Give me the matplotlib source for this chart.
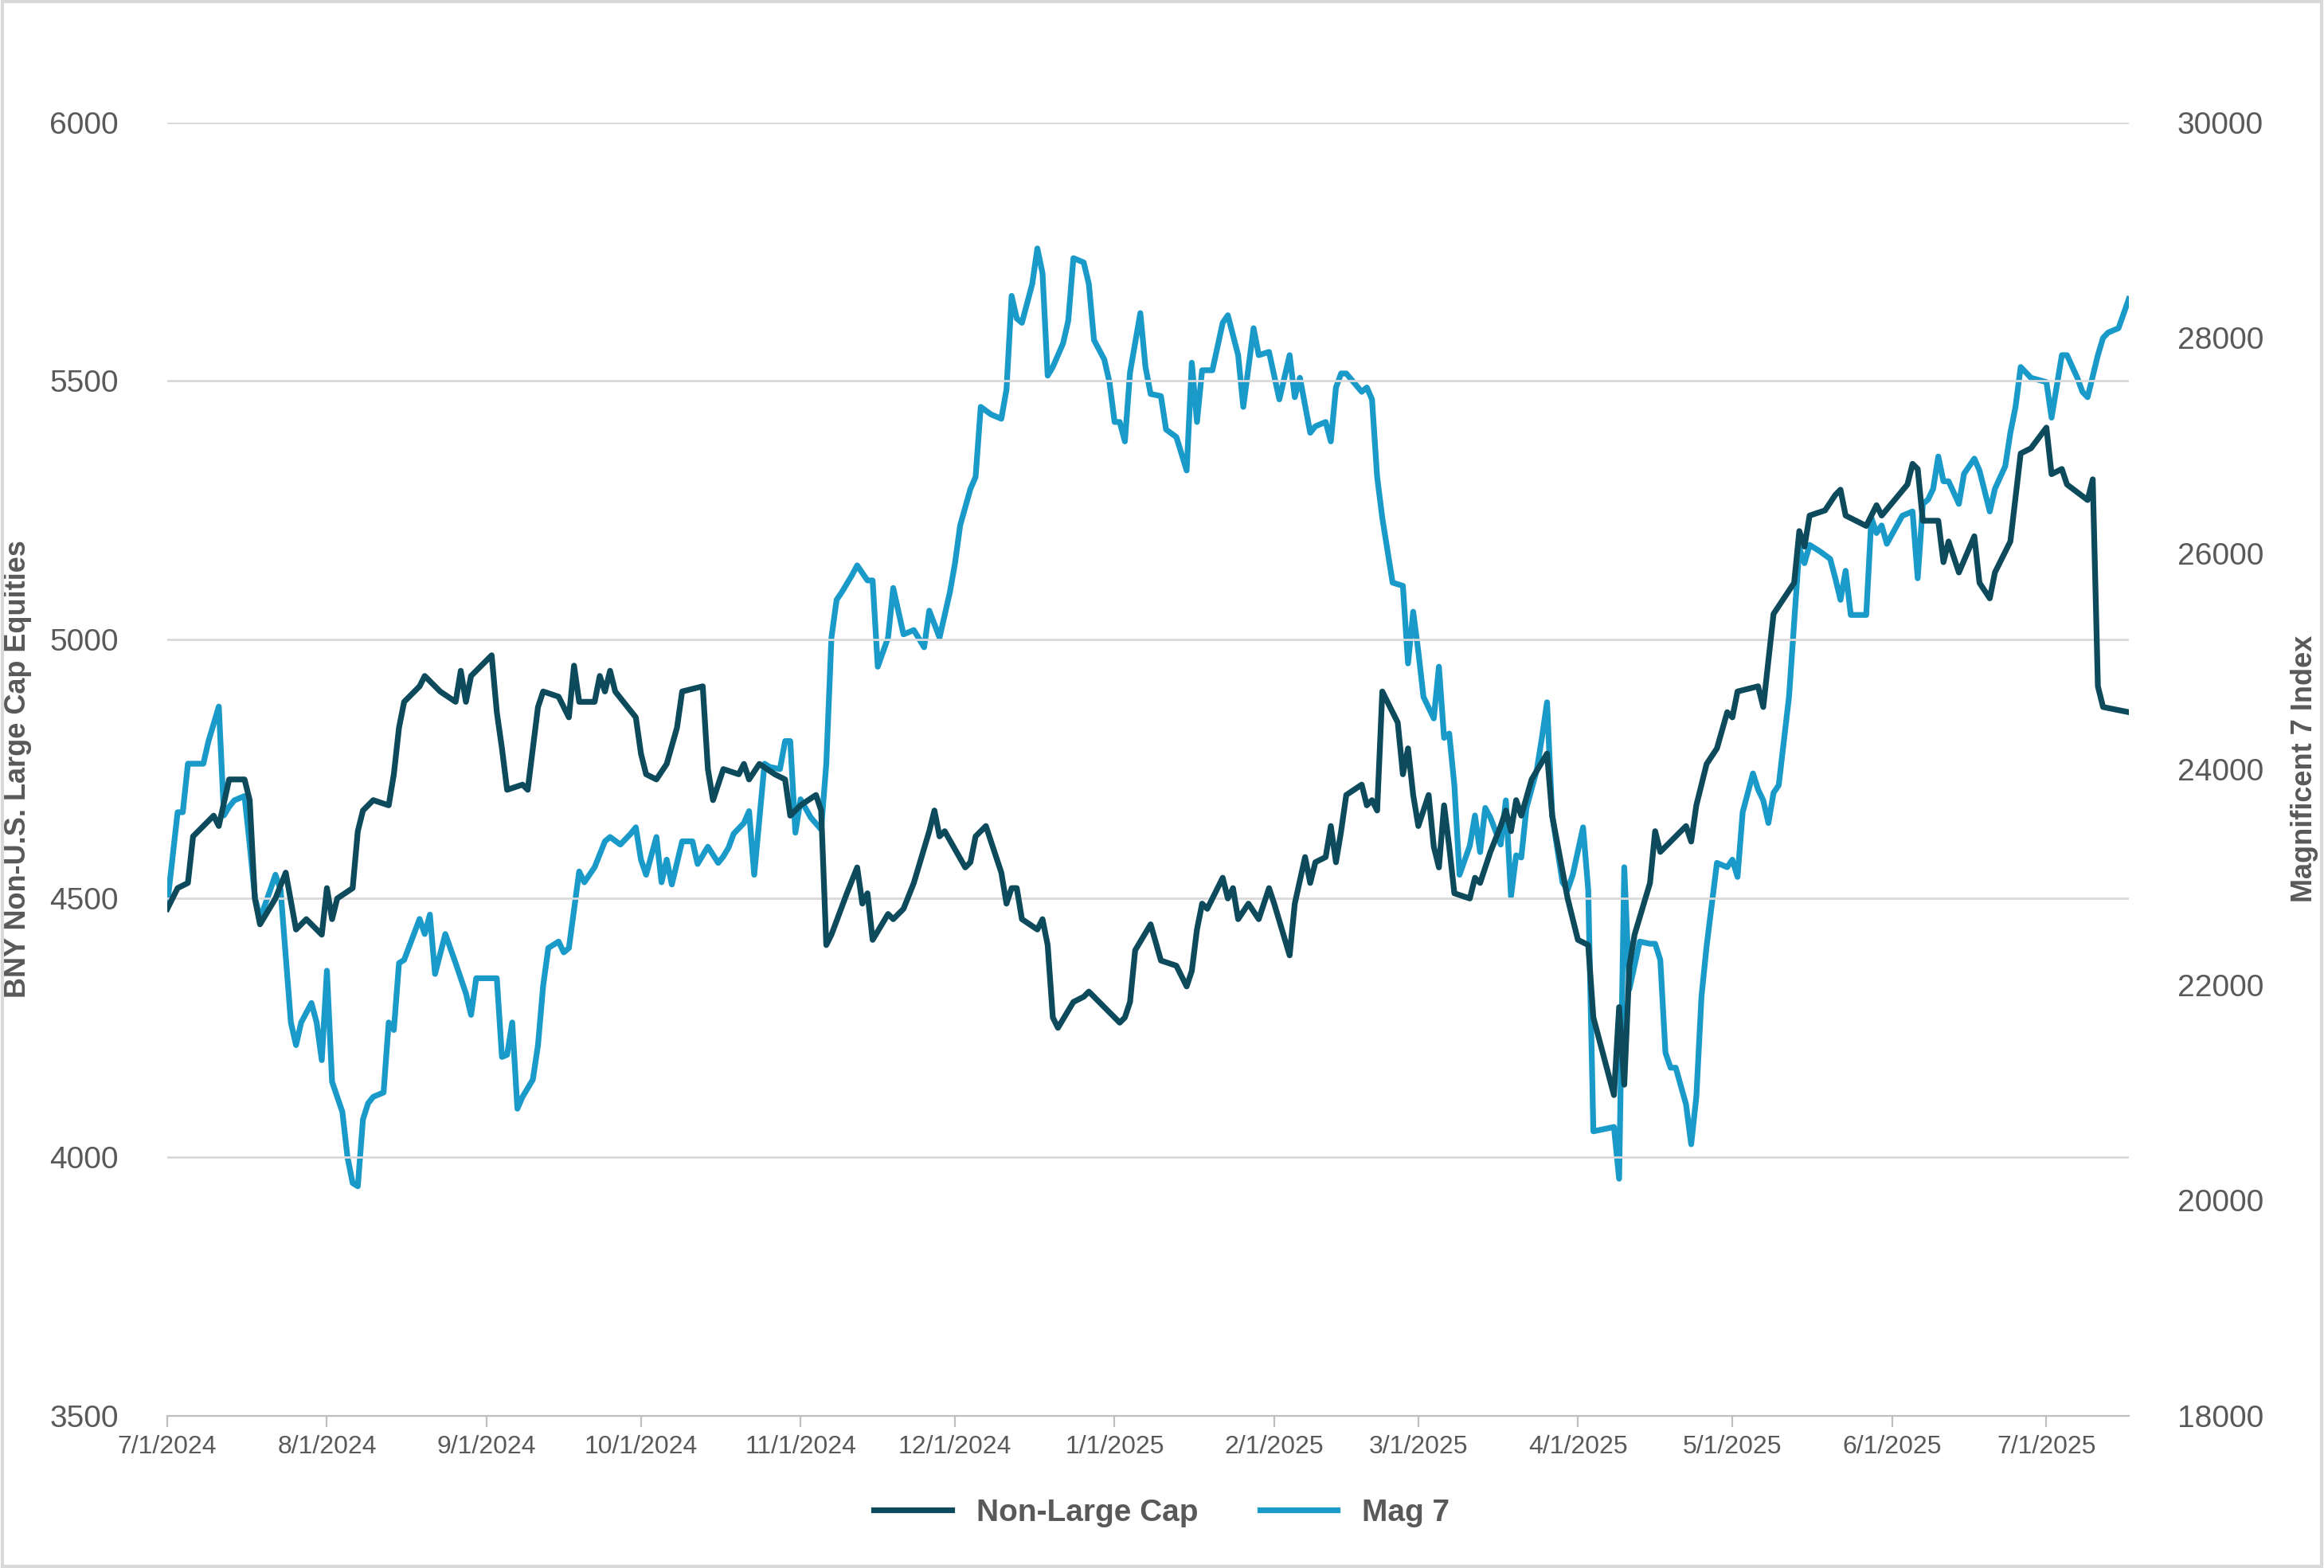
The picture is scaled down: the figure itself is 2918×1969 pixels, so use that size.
import numpy as np
import pandas as pd
import matplotlib
matplotlib.use("Agg")
import matplotlib.pyplot as plt
import matplotlib.dates as mdates

plt.rcParams["font.family"] = "Liberation Sans"

# =============================================================================
# Data (days since 7/1/2024, index level)
start = pd.Timestamp("2024-07-01")

nlc_day = [0, 2, 4, 5, 9, 10, 12, 15, 16, 17, 18, 21, 23, 25, 27, 30, 31, 32, 33, 36, 37, 38, 40, 43, 44, 45, 46,
           49, 50, 53, 56, 57, 58, 59, 63, 64, 65, 66, 69, 70, 72, 73, 76, 78, 79, 80, 83, 84, 85, 86, 87, 91, 92,
           93, 95, 97, 99, 100, 104, 105, 106, 108, 111, 112, 113, 115, 118, 120, 121, 123, 126, 127, 128, 129,
           132, 134, 135, 136, 137, 140, 141, 143, 145, 148, 149, 150, 151, 155, 156, 157, 159, 162, 163, 164,
           165, 166, 169, 170, 171, 172, 173, 176, 178, 179, 182, 185, 186, 187, 188, 191, 193, 196, 198, 199,
           200, 201, 202, 205, 206, 207, 208, 210, 212, 214, 215, 218, 219, 221, 222, 223, 225, 226, 227, 228,
           229, 232, 233, 234, 235, 236, 238, 239, 240, 241, 242, 243, 245, 246, 247, 248, 249, 250, 253, 254,
           255, 257, 259, 260, 261, 262, 263, 265, 268, 269, 272, 274, 276, 277, 281, 282, 283, 284, 285, 288,
           289, 290, 295, 296, 297, 299, 301, 303, 304, 305, 309, 310, 312, 316, 317, 318, 319, 322, 324, 325,
           326, 330, 332, 333, 338, 339, 340, 341, 344, 345, 346, 348, 351, 352, 354, 355, 358, 360, 362, 365,
           366, 368, 369, 373, 374, 375, 376, 381]
nlc_val = [4480, 4520, 4530, 4620, 4660, 4640, 4730, 4730, 4690, 4500, 4450, 4500, 4550, 4440, 4460, 4430, 4520,
           4460, 4500, 4520, 4630, 4670, 4690, 4680, 4740, 4830, 4880, 4910, 4930, 4900, 4880, 4940, 4880, 4930,
           4970, 4860, 4790, 4710, 4720, 4710, 4870, 4900, 4890, 4850, 4950, 4880, 4880, 4930, 4900, 4940, 4900,
           4850, 4780, 4740, 4730, 4760, 4830, 4900, 4910, 4750, 4690, 4750, 4740, 4760, 4730, 4760, 4740, 4730,
           4660, 4680, 4700, 4670, 4410, 4430, 4510, 4560, 4490, 4510, 4420, 4470, 4460, 4480, 4530, 4630, 4670,
           4620, 4630, 4560, 4570, 4620, 4640, 4550, 4490, 4520, 4520, 4460, 4440, 4460, 4410, 4270, 4250, 4300,
           4310, 4320, 4290, 4260, 4270, 4300, 4400, 4450, 4380, 4370, 4330, 4360, 4440, 4490, 4480, 4540, 4500,
           4520, 4460, 4490, 4460, 4520, 4490, 4390, 4490, 4580, 4530, 4570, 4580, 4640, 4570, 4630, 4700, 4720,
           4680, 4690, 4670, 4900, 4860, 4840, 4740, 4790, 4700, 4640, 4700, 4600, 4560, 4680, 4600, 4510, 4500,
           4540, 4530, 4590, 4640, 4670, 4630, 4690, 4660, 4730, 4780, 4660, 4500, 4420, 4410, 4270, 4120, 4290,
           4140, 4370, 4430, 4530, 4630, 4590, 4640, 4610, 4680, 4760, 4790, 4860, 4850, 4900, 4910, 4870, 5050,
           5110, 5210, 5180, 5240, 5250, 5280, 5290, 5240, 5220, 5260, 5240, 5300, 5340, 5330, 5230, 5230, 5150,
           5190, 5130, 5200, 5110, 5080, 5130, 5190, 5360, 5370, 5410, 5320, 5330, 5300, 5270, 5310, 4910, 4870,
           4860]

mag_day = [0, 2, 3, 4, 7, 8, 10, 11, 12, 13, 15, 16, 17, 18, 20, 21, 22, 24, 25, 26, 28, 29, 30, 31, 32, 34, 35,
           36, 37, 38, 39, 40, 42, 43, 44, 45, 46, 49, 50, 51, 52, 54, 56, 58, 59, 60, 64, 65, 66, 67, 68, 69, 71,
           72, 73, 74, 76, 77, 78, 80, 81, 83, 85, 86, 88, 90, 91, 92, 93, 95, 96, 97, 98, 100, 102, 103, 104, 105,
           107, 108, 109, 110, 112, 113, 114, 116, 117, 119, 120, 121, 122, 123, 125, 127, 128, 129, 130, 131, 133,
           134, 136, 137, 138, 140, 141, 143, 145, 147, 148, 150, 152, 153, 154, 156, 157, 158, 160, 162, 163, 164,
           165, 166, 168, 169, 170, 171, 172, 174, 175, 176, 178, 179, 180, 182, 183, 184, 185, 186, 187, 189, 190,
           191, 193, 194, 196, 198, 199, 200, 201, 203, 205, 206, 208, 209, 211, 212, 214, 216, 218, 219, 220, 222,
           223, 225, 226, 227, 228, 229, 232, 233, 234, 235, 236, 238, 240, 241, 242, 243, 244, 246, 247, 248, 249,
           250, 251, 253, 254, 255, 256, 257, 259, 260, 261, 262, 263, 264, 266, 267, 268, 269, 271, 272, 273, 275,
           276, 277, 279, 281, 282, 283, 284, 286, 288, 289, 290, 291, 292, 293, 295, 296, 297, 298, 299, 301, 303,
           304, 305, 306, 308, 309, 310, 311, 312, 313, 315, 316, 317, 318, 319, 321, 323, 324, 325, 326, 327, 330,
           331, 332, 333, 334, 337, 339, 340, 341, 342, 343, 344, 345, 346, 348, 349, 351, 352, 354, 355, 357, 358,
           359, 360, 362, 365, 366, 368, 369, 371, 372, 373, 375, 376, 377, 379, 381]
mag_val = [22750, 23600, 23600, 24050, 24050, 24260, 24580, 23570, 23650, 23710, 23750, 23300, 22820, 22610, 22880,
           23020, 22880, 21650, 21440, 21650, 21830, 21650, 21300, 22130, 21100, 20820, 20400, 20160, 20130, 20750,
           20900, 20960, 21000, 21650, 21580, 22200, 22230, 22610, 22470, 22650, 22100, 22470, 22200, 21920, 21720,
           22060, 22060, 21330, 21350, 21650, 20850, 20960, 21120, 21440, 21990, 22340, 22400, 22300, 22340, 23050,
           22950, 23090, 23330, 23370, 23300, 23400, 23460, 23160, 23020, 23370, 22950, 23160, 22930, 23330, 23330,
           23120, 23200, 23280, 23130, 23190, 23270, 23400, 23500, 23610, 23020, 24050, 24020, 24000, 24260, 24260,
           23410, 23720, 23550, 23440, 24050, 25220, 25570, 25640, 25800, 25890, 25750, 25750, 24950, 25220, 25680,
           25250, 25290, 25130, 25470, 25220, 25640, 25910, 26260, 26600, 26710, 27360, 27290, 27250, 27520, 28390,
           28180, 28140, 28500, 28830, 28600, 27650, 27730, 27950, 28160, 28740, 28700, 28500, 27980, 27800, 27590,
           27220, 27220, 27040, 27680, 28230, 27730, 27480, 27460, 27150, 27080, 26770, 27770, 27220, 27700, 27700,
           28140, 28210, 27840, 27360, 28090, 27840, 27870, 27430, 27840, 27450, 27630, 27120, 27180, 27220, 27040,
           27540, 27670, 27670, 27500, 27540, 27430, 26710, 26330, 25730, 25700, 24980, 25460, 25090, 24670,
           24470, 24950, 24290, 24330, 23850, 23020, 23290, 23570, 23230, 23640, 23550, 23300, 23710, 22820, 23200,
           23180, 23640, 23990, 24290, 24620, 23570, 22950, 22880, 23020, 23460, 22880, 20640, 20660, 20680, 20200,
           23090, 21960, 22400, 22380, 22380, 22230, 21370, 21230, 21230, 20890, 20520, 20960, 21890, 22360, 23130,
           23090, 23160, 23000, 23600, 23960, 23810, 23710, 23500, 23780, 23850, 24670, 25360, 26050, 25910,
           26080, 26020, 25950, 25770, 25570, 25840, 25430, 25430, 26330, 26190, 26260, 26090, 26350, 26390, 25770,
           26460, 26500, 26600, 26900, 26670, 26670, 26460, 26740, 26880, 26770, 26390, 26600, 26810, 27120, 27360,
           27730, 27630, 27590, 27260, 27840, 27840, 27630, 27500, 27450, 27840, 28000, 28050, 28090, 28360]

nlc_dates = start + pd.to_timedelta(nlc_day, unit="D")
mag_dates = start + pd.to_timedelta(mag_day, unit="D")

dark = "#0d4a5c"
light = "#1a9ac9"
grey = "#595959"

# =============================================================================
fig = plt.figure(figsize=(14.59, 9.845), dpi=200)
ax = fig.add_axes([0.072, 0.097, 0.844, 0.825])
ax2 = ax.twinx()

l1, = ax.plot(nlc_dates, nlc_val, color=dark, lw=2.6, zorder=3)
l2, = ax2.plot(mag_dates, mag_val, color=light, lw=2.6)
ax.set_zorder(ax2.get_zorder() + 1)
ax.patch.set_visible(False)

ax.set_ylim(3500, 6000)
ax.set_yticks(np.arange(3500, 6001, 500))
ax2.set_ylim(18000, 30000)
ax2.set_yticks(np.arange(18000, 30001, 2000))
ax.set_xlim(start, start + pd.Timedelta(days=381))
ax.xaxis.set_major_locator(mdates.MonthLocator())
ax.xaxis.set_major_formatter(plt.FuncFormatter(
    lambda x, p: (lambda d: f"{d.month}/{d.day}/{d.year}")(mdates.num2date(x))))

for a in (ax, ax2):
    for s in a.spines.values():
        s.set_visible(False)
ax.spines["bottom"].set_visible(True)
ax.spines["bottom"].set_color("#bfbfbf")
ax.grid(axis="y", color="#d9d9d9", lw=1)
ax.tick_params(axis="y", length=0, labelsize=14, labelcolor=grey, pad=22)
ax2.tick_params(axis="y", length=0, labelsize=14, labelcolor=grey, pad=22)
ax.tick_params(axis="x", length=5, color="#bfbfbf", labelsize=11.5, labelcolor=grey)

ax.set_ylabel("BNY Non-U.S. Large Cap Equities", fontsize=13, fontweight="bold", color=grey, labelpad=8)
ax2.set_ylabel("Magnificent 7 Index", fontsize=13, fontweight="bold", color=grey, labelpad=12)

fig.legend([l1, l2], ["Non-Large Cap", "Mag 7"], loc="center", bbox_to_anchor=(0.5, 0.035), ncol=2,
           frameon=False, prop={"size": 14, "weight": "bold"}, labelcolor=grey, handlelength=2.5,
           columnspacing=2)

fig.patches.append(plt.Rectangle((0.001, 0.001), 0.998, 0.998, transform=fig.transFigure,
                                 fill=False, edgecolor="#d9d9d9", lw=1.5))

fig.savefig("out.png", dpi=200)
